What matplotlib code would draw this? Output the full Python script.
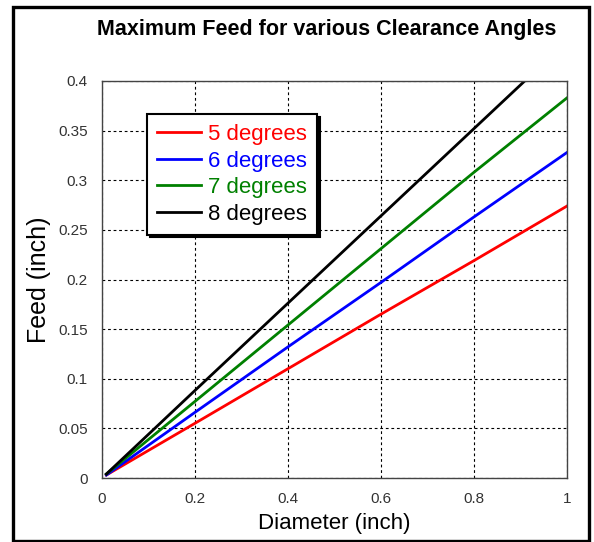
import matplotlib
matplotlib.use('Agg')
import matplotlib.pyplot as plt
from matplotlib.patches import Rectangle

plt.rcParams['font.family'] = ['Liberation Sans', 'DejaVu Sans']

# data
diameter = [0.01, 0.2, 0.4, 0.6, 0.8, 1.0]
feed_5 = [0.003, 0.055, 0.110, 0.165, 0.219, 0.274]
feed_6 = [0.003, 0.066, 0.132, 0.197, 0.263, 0.328]
feed_7 = [0.004, 0.077, 0.154, 0.231, 0.308, 0.383]
feed_8 = [0.004, 0.088, 0.176, 0.264, 0.352, 0.440]
labels = ['5 degrees', '6 degrees', '7 degrees', '8 degrees']
colors = ['#ff0000', '#0000ff', '#008000', '#000000']
xticks = [0, 0.2, 0.4, 0.6, 0.8, 1]
yticks = [0, 0.05, 0.1, 0.15, 0.2, 0.25, 0.3, 0.35, 0.4]

W, H = 594, 542
fig = plt.figure(figsize=(W / 100, H / 100), dpi=100)
ax = fig.add_axes([101.7 / W, 1 - 478 / H, (567 - 101.7) / W, (478 - 81) / H])

# outer frame
fig.patches.append(Rectangle((12.5 / W, 1 - 541 / H), (589 - 12.5) / W, (541 - 7) / H,
                             transform=fig.transFigure, fill=False,
                             edgecolor='black', linewidth=2.4))

for ys, c, lab in zip([feed_5, feed_6, feed_7, feed_8], colors, labels):
    ax.plot(diameter, ys, color=c, linewidth=2.0, label=lab)

ax.set_xlim(0, 1)
ax.set_ylim(0, 0.4)
ax.set_xticks(xticks)
ax.set_yticks(yticks)
ax.set_xticklabels(['0', '0.2', '0.4', '0.6', '0.8', '1'])
ax.set_yticklabels(['0', '0.05', '0.1', '0.15', '0.2', '0.25', '0.3', '0.35', '0.4'])
ax.tick_params(length=0, labelsize=11, labelcolor='#333333', pad=10)
ax.grid(True, color='black', linestyle=(0, (2.5, 2.5)), linewidth=0.8)
for s in ax.spines.values():
    s.set_color('#444444')
    s.set_linewidth(1.0)

ax.set_xlabel('Diameter (inch)', fontsize=16, labelpad=5)
ax.set_ylabel('Feed (inch)', fontsize=18, labelpad=5)
fig.text(327 / W, 1 - 30 / H, 'Maximum Feed for various Clearance Angles',
         ha='center', va='center', fontsize=15.5, fontweight='bold')

leg = ax.legend(loc='upper left', bbox_to_anchor=((147 - 101.7) / (567 - 101.7), 1 - (114 - 81) / (478 - 81)),
                fontsize=16, frameon=True, fancybox=False, shadow={'color': 'black', 'alpha': 1},
                handlelength=2.0, handletextpad=0.3, borderpad=0.45, labelspacing=0.25,
                borderaxespad=0)
leg.get_frame().set_edgecolor('black')
leg.get_frame().set_linewidth(1.5)
for t, c in zip(leg.get_texts(), colors):
    t.set_color(c)

fig.savefig('out.png', dpi=100)
